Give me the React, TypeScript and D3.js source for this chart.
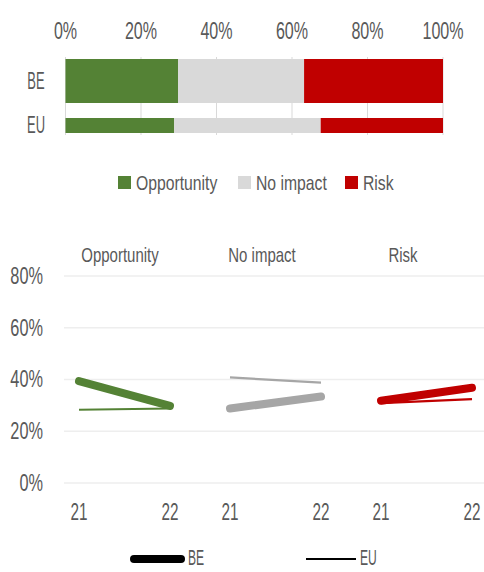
import React from "react";
import * as d3 from "d3";

const categories = ["Opportunity", "No impact", "Risk"];
const regions = ["BE", "EU"];
const years = ["21", "22"];
const be21 = [39.4, 28.8, 31.8];
const be22 = [29.8, 33.4, 36.8];
const eu21 = [28.3, 40.8, 30.9];
const eu22 = [28.8, 38.8, 32.4];
const barTicks = [0, 20, 40, 60, 80, 100];
const lineTicks = [0, 20, 40, 60, 80];

const barColors = ["#548235", "#d9d9d9", "#c00000"];
const lineColors = ["#548235", "#a6a6a6", "#c00000"];
const FONT = "'Liberation Sans', Arial, sans-serif";
const TXT = "#595959";

function T({ x, y, children, anchor = "start", size = 21, sx = 1, fill = TXT }: any) {
  return (
    <text
      transform={`translate(${x},${y}) scale(${sx},1)`}
      textAnchor={anchor}
      dominantBaseline="central"
      fontFamily={FONT}
      fontSize={size}
      fill={fill}
    >
      {children}
    </text>
  );
}

export default function App() {
  const W = 484, H = 572;
  // top bar chart
  const x = d3.scaleLinear().domain([0, 100]).range([65.5, 443]);
  const rows = [
    { name: regions[0], vals: be22, y0: 59, y1: 103, ly: 80.5 },
    { name: regions[1], vals: eu22, y0: 118, y1: 133, ly: 124.5 },
  ];
  // bottom line chart
  const y = d3.scaleLinear().domain([0, 80]).range([483, 276]);
  const panel = d3.scalePoint<string>().domain(categories).range([79, 381]);
  const yr = d3.scalePoint<string>().domain(years).range([0, 91]);
  const titleX = [120, 262, 403];
  const legendX = [118, 238, 345];
  const line = d3.line<[number, number]>().x((d) => d[0]).y((d) => d[1]);

  return (
    <svg width={W} height={H} style={{ position: "absolute", left: 0, top: 0 }}>
      <rect width={W} height={H} fill="#fff" />
      {/* top axis labels */}
      {barTicks.map((t) => (
        <T key={t} x={x(t)} y={30.5} anchor="middle" size={24} sx={0.67}>{t}%</T>
      ))}
      {/* vertical gridlines */}
      {barTicks.map((t) => (
        <line key={"g" + t} x1={x(t)} x2={x(t)} y1={57} y2={135} stroke="#d9d9d9" strokeWidth={1} />
      ))}
      {rows.map((r) => {
        let acc = 0;
        return (
          <g key={r.name}>
            {r.vals.map((v, i) => {
              const a = acc;
              acc += v;
              const b = i === r.vals.length - 1 ? 100 : acc;
              return (
                <rect key={i} x={x(a)} y={r.y0} width={x(b) - x(a)} height={r.y1 - r.y0} fill={barColors[i]} />
              );
            })}
            <T x={36} y={r.ly} anchor="middle" size={24} sx={0.54}>{r.name}</T>
          </g>
        );
      })}
      {/* top legend */}
      {categories.map((c, i) => (
        <g key={c}>
          <rect x={legendX[i]} y={176} width={13} height={13} fill={barColors[i]} />
          <T x={legendX[i] + 18} y={182.5} size={21} sx={0.75}>{c}</T>
        </g>
      ))}

      {/* bottom gridlines */}
      {lineTicks.map((t) => (
        <g key={"l" + t}>
          <line x1={64} x2={484} y1={y(t)} y2={y(t)} stroke="#eeeeee" strokeWidth={1.5} />
          <T x={43} y={y(t) - 1} anchor="end" size={24} sx={0.68}>{t}%</T>
        </g>
      ))}
      {categories.map((c, i) => {
        const px = panel(c)!;
        const ptsBE: [number, number][] = [[px + yr("21")!, y(be21[i])], [px + yr("22")!, y(be22[i])]];
        const ptsEU: [number, number][] = [[px + yr("21")!, y(eu21[i])], [px + yr("22")!, y(eu22[i])]];
        return (
          <g key={c}>
            <T x={titleX[i]} y={255.5} anchor="middle" size={20} sx={0.75}>{c}</T>
            <path d={line(ptsEU)!} stroke={lineColors[i]} strokeWidth={2.2} fill="none" strokeLinecap="butt" />
            <path d={line(ptsBE)!} stroke={lineColors[i]} strokeWidth={8} fill="none" strokeLinecap="round" />
            {years.map((yy) => (
              <T key={yy} x={px + yr(yy)!} y={511.5} anchor="middle" size={23.5} sx={0.65}>{yy}</T>
            ))}
          </g>
        );
      })}
      {/* bottom legend */}
      <line x1={134} x2={181} y1={559} y2={559} stroke="#000" strokeWidth={8} strokeLinecap="round" />
      <T x={188} y={558} size={22} sx={0.55}>BE</T>
      <line x1={306} x2={356} y1={559} y2={559} stroke="#000" strokeWidth={2} />
      <T x={360} y={558} size={22} sx={0.55}>EU</T>
    </svg>
  );
}
